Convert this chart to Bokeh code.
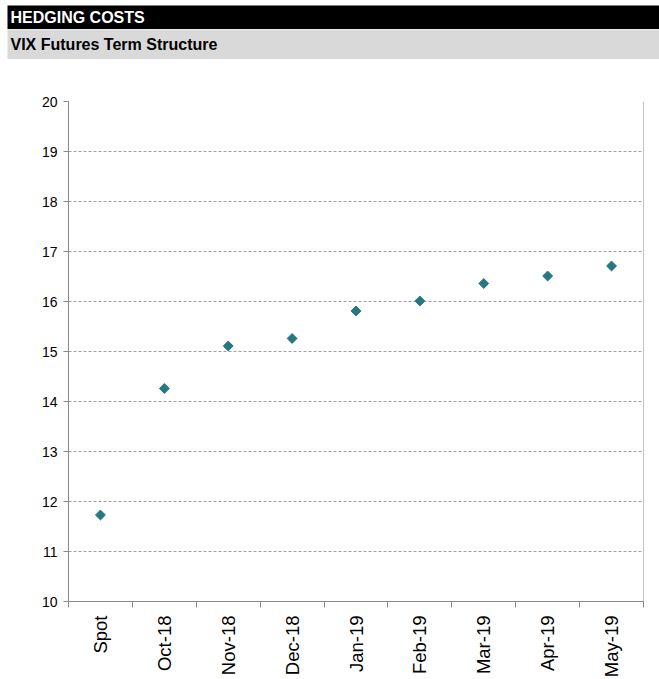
import math
from bokeh.plotting import figure
from bokeh.models import Range1d, FixedTicker, Span
from bokeh.core.properties import value
from bokeh.embed import file_html
from bokeh.resources import INLINE

# ---- data ----
title_main = "HEDGING COSTS"
title_sub = "VIX Futures Term Structure"
categories = ["Spot", "Oct-18", "Nov-18", "Dec-18", "Jan-19", "Feb-19", "Mar-19", "Apr-19", "May-19"]
values = [11.73, 14.26, 15.11, 15.26, 15.81, 16.01, 16.36, 16.51, 16.71]
y_ticks = list(range(10, 21))

W = 659
FL, FT, FW, FH = 68, 101, 575, 500   # plot-area placement in page pixels

xs = list(range(len(categories)))
p = figure(frame_width=FW, frame_height=FH, output_backend="svg", toolbar_location=None,
           x_range=Range1d(-0.5, len(categories) - 0.5), y_range=Range1d(10, 20),
           min_border_left=FL, min_border_right=W - FL - FW, min_border_top=FT, min_border_bottom=78)
p.outline_line_color = None
p.background_fill_color = "white"
p.border_fill_color = "white"

# pixel coordinate system for the header (canvas pixels, y downward)
p.extra_x_ranges = {"px": Range1d(FL, FL + FW)}
p.extra_y_ranges = {"px": Range1d(FT + FH, FT)}

FONT = value("Liberation Sans")
r1 = p.quad(left=[7], right=[W], top=[5], bottom=[28.5], fill_color="black", line_color=None,
            x_range_name="px", y_range_name="px")
r2 = p.quad(left=[7], right=[W], top=[29], bottom=[58.5], fill_color="#d9d9d9", line_color=None,
            x_range_name="px", y_range_name="px")
t1 = p.text(x=[10], y=[17], text=[title_main], text_font=FONT, text_font_style="bold",
            text_font_size="16px", text_color="white", text_baseline="middle",
            x_range_name="px", y_range_name="px")
t2 = p.text(x=[10], y=[43.5], text=[title_sub], text_font=FONT, text_font_style="bold",
            text_font_size="16px", text_color="black", text_baseline="middle",
            x_range_name="px", y_range_name="px")
for r in (r1, r2, t1, t2):
    r.level = "annotation"

# ---- grid ----
p.xgrid.visible = False
p.ygrid.grid_line_color = "#a0a0a0"
p.ygrid.grid_line_dash = "3 2"
p.ygrid.grid_line_width = 1

# ---- x axis: labels at centres, tick marks between categories ----
xa = p.xaxis[0]
xa.ticker = FixedTicker(ticks=xs, minor_ticks=[i - 0.5 for i in range(len(categories) + 1)])
xa.major_label_overrides = {i: c for i, c in enumerate(categories)}
xa.major_tick_in = 0
xa.major_tick_out = 0
xa.minor_tick_in = 0
xa.minor_tick_out = 6
xa.minor_tick_line_color = "#888888"
xa.axis_line_color = "#888888"
xa.major_label_orientation = math.pi / 2
xa.major_label_text_font = "Liberation Sans"
xa.major_label_text_font_size = "18.5px"
xa.major_label_text_color = "black"
xa.major_label_standoff = 8

# ---- y axis ----
ya = p.yaxis[0]
ya.ticker = FixedTicker(ticks=y_ticks)
ya.major_tick_in = 0
ya.major_tick_out = 5
ya.minor_tick_line_color = None
ya.major_tick_line_color = "#888888"
ya.axis_line_color = "#888888"
ya.major_label_text_font = "Liberation Sans"
ya.major_label_text_font_size = "14px"
ya.major_label_text_color = "black"
ya.major_label_standoff = 6

# right border of plot area
p.add_layout(Span(location=p.x_range.end, dimension="height", line_color="#888888", line_width=1))

p.scatter(x=xs, y=values, marker="square", angle=math.pi / 4, size=7,
          fill_color="#267880", line_color="#267880")

open("out.html", "w").write(file_html(p, INLINE))
